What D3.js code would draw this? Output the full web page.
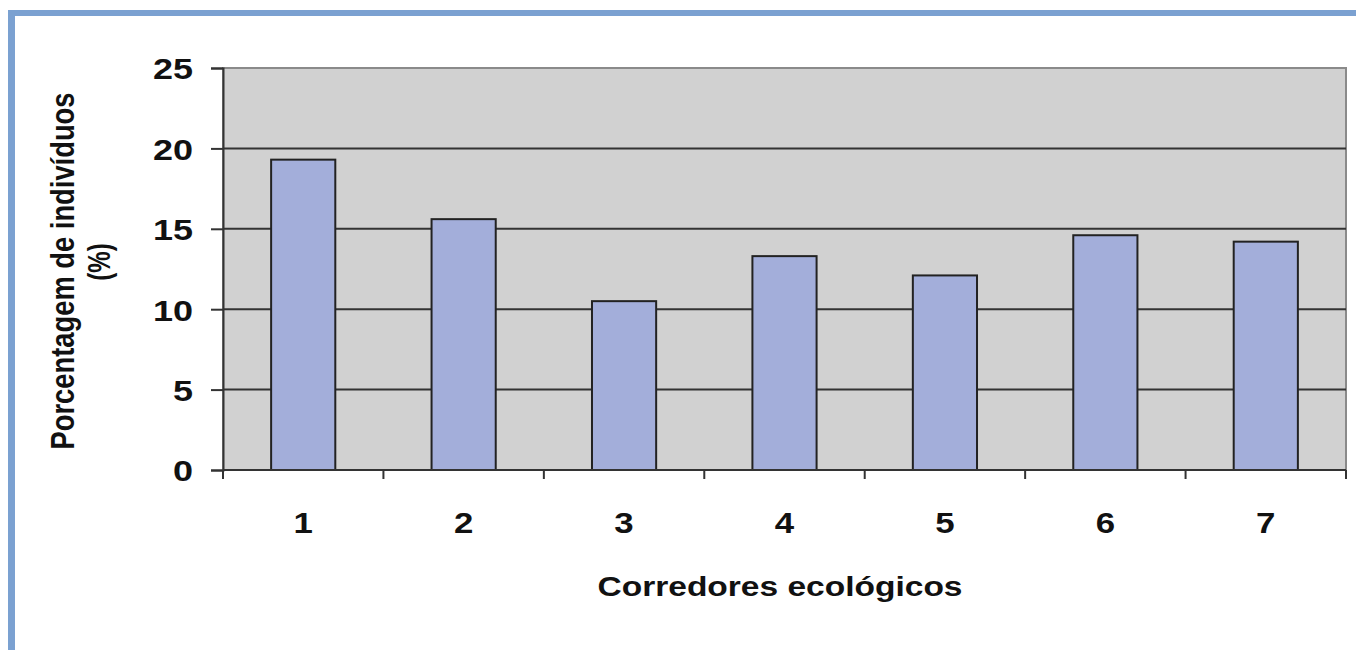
<!DOCTYPE html>
<html>
<head>
<meta charset="utf-8">
<script src="https://d3js.org/d3.v7.min.js"></script>
<style>
  body { margin: 0; background: #fff; }
  text { font-family: Arial, "Liberation Sans", sans-serif; font-weight: bold; fill: #111; }
</style>
</head>
<body>
<svg width="1356" height="650"></svg>
<script>
var categories = ["1", "2", "3", "4", "5", "6", "7"];
var values = [19.3, 15.6, 10.5, 13.3, 12.1, 14.6, 14.2];
var yTicks = [0, 5, 10, 15, 20, 25];

var svg = d3.select("svg"),
  width = +svg.attr("width"),
  height = +svg.attr("height");

var margin = { left: 223, right: 10, top: 68, bottom: 180 };

// the picture is a bit stretched sideways, so widen the glyphs
function widen(sel, k) {
  sel.each(function() {
    var w = this.getComputedTextLength();
    d3.select(this).attr("textLength", w * k).attr("lengthAdjust", "spacingAndGlyphs");
  });
}

// blue frame
svg.append("rect").attr("x", 8).attr("y", 10).attr("width", width).attr("height", 6).attr("fill", "#7ba1d1");
svg.append("rect").attr("x", 8).attr("y", 10).attr("width", 7).attr("height", height).attr("fill", "#7ba1d1");

var x = d3.scaleBand()
  .domain(categories)
  .range([margin.left, width - margin.right])
  .paddingInner(0.6)
  .paddingOuter(0.3);

var y = d3.scaleLinear()
  .domain([0, 25])
  .range([height - margin.bottom, margin.top]);

// plot background
svg.append("rect")
  .attr("x", margin.left).attr("y", margin.top)
  .attr("width", width - margin.right - margin.left)
  .attr("height", y(0) - margin.top)
  .attr("fill", "#d1d1d1")
  .attr("stroke", "#8a8a8a")
  .attr("stroke-width", 2);

// gridlines
svg.append("g")
  .selectAll("line")
  .data(yTicks.filter(function(d) { return d > 0 && d < 25; }))
  .enter().append("line")
  .attr("x1", margin.left).attr("x2", width - margin.right)
  .attr("y1", function(d) { return y(d); })
  .attr("y2", function(d) { return y(d); })
  .attr("stroke", "#333")
  .attr("stroke-width", 2);

// bars
svg.append("g")
  .selectAll("rect")
  .data(values)
  .enter().append("rect")
  .attr("x", function(d, i) { return x(categories[i]); })
  .attr("y", function(d) { return y(d); })
  .attr("width", x.bandwidth())
  .attr("height", function(d) { return y(0) - y(d); })
  .attr("fill", "#a3aeda")
  .attr("stroke", "#222")
  .attr("stroke-width", 2);

// y axis
var yAxis = svg.append("g")
  .attr("transform", "translate(" + margin.left + ",0)")
  .call(d3.axisLeft(y).tickValues(yTicks).tickSize(12).tickPadding(18));
yAxis.select(".domain").attr("stroke", "#333").attr("stroke-width", 2);
yAxis.selectAll(".tick line").attr("stroke", "#333").attr("stroke-width", 2);
yAxis.selectAll("text")
  .style("font-size", "30px").style("font-weight", "bold")
  .attr("fill", "#111").attr("dy", "0.36em")
  .call(widen, 1.2);

// x axis: ticks at category boundaries
var bounds = d3.range(categories.length + 1).map(function(i) {
  return margin.left + i * (width - margin.right - margin.left) / categories.length;
});
var xg = svg.append("g");
xg.append("line")
  .attr("x1", margin.left).attr("x2", width - margin.right)
  .attr("y1", y(0)).attr("y2", y(0))
  .attr("stroke", "#333").attr("stroke-width", 2);
xg.selectAll(".tk")
  .data(bounds)
  .enter().append("line")
  .attr("x1", function(d) { return d; }).attr("x2", function(d) { return d; })
  .attr("y1", y(0)).attr("y2", y(0) + 9)
  .attr("stroke", "#333").attr("stroke-width", 2);
xg.selectAll("text")
  .data(categories)
  .enter().append("text")
  .attr("x", function(d) { return x(d) + x.bandwidth() / 2; })
  .attr("y", 533)
  .attr("text-anchor", "middle")
  .style("font-size", "29px")
  .text(function(d) { return d; })
  .call(widen, 1.2);

// axis titles
svg.append("text")
  .attr("x", 780).attr("y", 596)
  .attr("text-anchor", "middle")
  .style("font-size", "28px")
  .attr("textLength", 365)
  .attr("lengthAdjust", "spacingAndGlyphs")
  .text("Corredores ecológicos");

var yt = svg.append("g")
  .attr("transform", "translate(74,271) rotate(-90) scale(1,1.3)");
yt.append("text")
  .attr("x", 0).attr("y", 0)
  .attr("text-anchor", "middle")
  .style("font-size", "26px")
  .attr("textLength", 357)
  .attr("lengthAdjust", "spacingAndGlyphs")
  .text("Porcentagem de indivíduos");
yt.append("text")
  .attr("x", 9).attr("y", 28)
  .attr("text-anchor", "middle")
  .style("font-size", "24px")
  .text("(%)");
</script>
</body>
</html>
